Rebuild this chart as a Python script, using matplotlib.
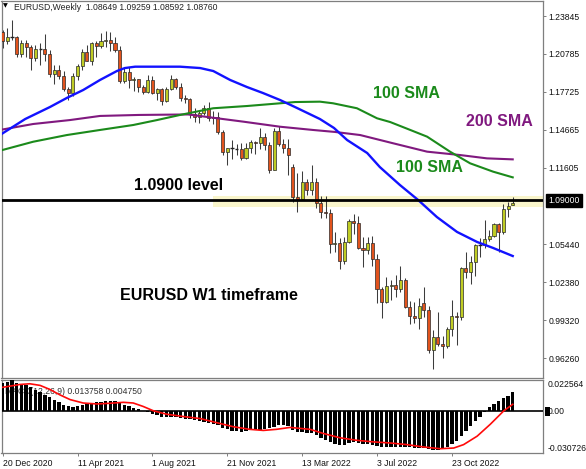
import matplotlib
matplotlib.use('Agg')
import matplotlib.pyplot as plt
from matplotlib.patches import Rectangle
import numpy as np
import pandas as pd

W, H = 586, 469
FONT = 'Liberation Sans'

# weekly EURUSD candles, first bar = week of 20 Dec 2020
opens = [1.2255, 1.2187, 1.2216, 1.2219, 1.2077, 1.2170, 1.2136, 1.2045, 1.2121, 1.2119,
         1.2075, 1.1915, 1.1952, 1.1904, 1.1795, 1.1762, 1.1899, 1.1983, 1.2097, 1.2020,
         1.2164, 1.2144, 1.2180, 1.2193, 1.2166, 1.2108, 1.1864, 1.1935, 1.1866, 1.1875,
         1.1810, 1.1771, 1.1870, 1.1762, 1.1795, 1.1697, 1.1795, 1.1880, 1.1813, 1.1726,
         1.1718, 1.1597, 1.1570, 1.1600, 1.1645, 1.1560, 1.1568, 1.1446, 1.1288, 1.1318,
         1.1316, 1.1315, 1.1237, 1.1320, 1.1370, 1.1358, 1.1410, 1.1344, 1.1146, 1.1456,
         1.1349, 1.1323, 1.1170, 1.0929, 1.0911, 1.1049, 1.0985, 1.1046, 1.0878, 1.0808,
         1.0796, 1.0545, 1.0551, 1.0412, 1.0562, 1.0732, 1.0717, 1.0518, 1.0498, 1.0554,
         1.0427, 1.0186, 1.0080, 1.0210, 1.0220, 1.0184, 1.0259, 1.0037, 0.9963, 0.9954,
         1.0070, 1.0015, 0.9690, 0.9799, 0.9741, 0.9721, 0.9862, 0.9965, 0.9958, 1.0355,
         1.0325, 1.0398, 1.0536, 1.0538, 1.0585, 1.0614, 1.0705, 1.0645, 1.0828, 1.08649]
highs = [1.2272, 1.2290, 1.2349, 1.2222, 1.2190, 1.2189, 1.2150, 1.2150, 1.2168, 1.2243,
         1.2113, 1.1990, 1.1990, 1.1945, 1.1810, 1.1928, 1.1995, 1.2117, 1.2150, 1.2173,
         1.2181, 1.2245, 1.2266, 1.2254, 1.2218, 1.2145, 1.1975, 1.1975, 1.1895, 1.1880,
         1.1830, 1.1909, 1.1900, 1.1806, 1.1805, 1.1809, 1.1909, 1.1886, 1.1845, 1.1750,
         1.1720, 1.1640, 1.1624, 1.1669, 1.1692, 1.1616, 1.1607, 1.1464, 1.1320, 1.1383,
         1.1355, 1.1362, 1.1360, 1.1386, 1.1380, 1.1482, 1.1443, 1.1370, 1.1483, 1.1495,
         1.1395, 1.1390, 1.1190, 1.1121, 1.1137, 1.1070, 1.1185, 1.1077, 1.0935, 1.0936,
         1.0829, 1.0642, 1.0593, 1.0607, 1.0749, 1.0787, 1.0774, 1.0601, 1.0606, 1.0615,
         1.0463, 1.0204, 1.0278, 1.0254, 1.0293, 1.0368, 1.0274, 1.0090, 1.0079, 1.0113,
         1.0198, 1.0051, 0.9854, 0.9999, 0.9808, 0.9876, 1.0094, 1.0000, 1.0364, 1.0481,
         1.0448, 1.0545, 1.0594, 1.0737, 1.0658, 1.0714, 1.0713, 1.0867, 1.0887, 1.09259]
lows = [1.2130, 1.2160, 1.2191, 1.2054, 1.2053, 1.2058, 1.1952, 1.2023, 1.1990, 1.2022,
        1.1894, 1.1836, 1.1874, 1.1780, 1.1704, 1.1740, 1.1870, 1.1950, 1.2018, 1.1986,
        1.2052, 1.2130, 1.2133, 1.2104, 1.2093, 1.1847, 1.1848, 1.1807, 1.1782, 1.1772,
        1.1752, 1.1760, 1.1752, 1.1706, 1.1664, 1.1690, 1.1790, 1.1800, 1.1700, 1.1685,
        1.1563, 1.1529, 1.1524, 1.1587, 1.1535, 1.1513, 1.1432, 1.1264, 1.1186, 1.1235,
        1.1262, 1.1222, 1.1234, 1.1279, 1.1272, 1.1313, 1.1302, 1.1121, 1.1140, 1.1340,
        1.1281, 1.1106, 1.0885, 1.0806, 1.0900, 1.0945, 1.0945, 1.0837, 1.0757, 1.0758,
        1.0471, 1.0483, 1.0349, 1.0389, 1.0556, 1.0627, 1.0506, 1.0359, 1.0469, 1.0366,
        1.0072, 0.9952, 1.0073, 1.0097, 1.0123, 1.0159, 1.0033, 0.9899, 0.9910, 0.9864,
        0.9956, 0.9670, 0.9536, 0.9728, 0.9632, 0.9705, 0.9808, 0.9730, 0.9935, 1.0271,
        1.0223, 1.0290, 1.0443, 1.0517, 1.0573, 1.0600, 1.0482, 1.0631, 1.0766, 1.08592]
closes = [1.2187, 1.2216, 1.2219, 1.2077, 1.2170, 1.2136, 1.2045, 1.2121, 1.2119, 1.2075,
          1.1915, 1.1952, 1.1904, 1.1795, 1.1762, 1.1899, 1.1983, 1.2097, 1.2020, 1.2164,
          1.2144, 1.2180, 1.2193, 1.2166, 1.2108, 1.1864, 1.1935, 1.1866, 1.1875, 1.1810,
          1.1771, 1.1870, 1.1762, 1.1795, 1.1697, 1.1795, 1.1880, 1.1813, 1.1726, 1.1718,
          1.1597, 1.1570, 1.1600, 1.1645, 1.1560, 1.1568, 1.1446, 1.1288, 1.1318, 1.1316,
          1.1315, 1.1237, 1.1320, 1.1370, 1.1358, 1.1410, 1.1344, 1.1146, 1.1456, 1.1349,
          1.1323, 1.1268, 1.0929, 1.0911, 1.1049, 1.0985, 1.1046, 1.0878, 1.0808, 1.0796,
          1.0545, 1.0551, 1.0412, 1.0562, 1.0732, 1.0717, 1.0518, 1.0498, 1.0554, 1.0427,
          1.0186, 1.0080, 1.0210, 1.0220, 1.0184, 1.0259, 1.0037, 0.9963, 0.9954, 1.0044,
          1.0015, 0.9690, 0.9799, 0.9741, 0.9721, 0.9862, 0.9965, 0.9958, 1.0355, 1.0325,
          1.0398, 1.0536, 1.0538, 1.0585, 1.0614, 1.0705, 1.0645, 1.0828, 1.0855, 1.08760]

# moving averages (bar position, price)
blue_pos = [-0.6, 4.8, 10.1, 13.7, 17.2, 20.8, 24.4, 26.1, 28.3, 37.9, 42.2, 45.0, 48.6, 52.2,
            55.6, 59.3, 62.9, 67.8, 70.8, 73.6, 77.9, 80.6, 84.9, 88.8, 92.8, 97.1, 101.4, 104.8, 109.0]
blue_ma = [1.1425, 1.1554, 1.1651, 1.1724, 1.1788, 1.1869, 1.1941, 1.1965, 1.1976, 1.1976, 1.1965,
           1.1941, 1.1869, 1.1812, 1.1764, 1.1707, 1.1643, 1.1554, 1.1482, 1.1385, 1.1280, 1.1167,
           1.1022, 1.0901, 1.0764, 1.0644, 1.0563, 1.0515, 1.0450]
sma100_pos = [-0.6, 6.5, 13.7, 20.8, 27.9, 33.0, 37.9, 45.0, 52.2, 59.3, 62.5, 67.8, 70.6, 75.7,
              80.0, 82.8, 87.1, 90.7, 95.6, 99.9, 104.8, 109.0]
sma100 = [1.1299, 1.1371, 1.1425, 1.1466, 1.1506, 1.1546, 1.1587, 1.1641, 1.1659, 1.1681, 1.1691,
          1.1694, 1.1681, 1.1641, 1.1560, 1.1530, 1.1466, 1.1412, 1.1291, 1.1197, 1.1130, 1.1084]
sma200_pos = [-0.6, 6.5, 14.4, 20.8, 29.1, 39.6, 47.1, 51.4, 59.3, 66.3, 71.0, 76.4, 83.4, 90.7,
              97.7, 103.5, 109.0]
sma200 = [1.1466, 1.1514, 1.1546, 1.1579, 1.1587, 1.1591, 1.1554, 1.1533, 1.1492, 1.1466, 1.1450,
          1.1425, 1.1359, 1.1291, 1.1264, 1.1237, 1.1229]

LEVEL = 1.09
BAND_LO, BAND_HI = 1.0842, 1.0936
BAND_START = '2021-10-31'

PRICE_TICKS = [1.23845, 1.20785, 1.17725, 1.14665, 1.11605, 1.05440, 1.02380, 0.99320, 0.96260]
TICK_LABELS = ['20 Dec 2020', '11 Apr 2021', '1 Aug 2021', '21 Nov 2021',
               '13 Mar 2022', '3 Jul 2022', '23 Oct 2022']

# MACD(12,26,9): main line as histogram, signal line
macd_hist = [0.0206, 0.0211, 0.0224, 0.0206, 0.0198, 0.0186, 0.0174, 0.0156, 0.0141, 0.0117,
             0.0099, 0.0082, 0.0062, 0.0042, 0.0032, 0.0030, 0.0037, 0.0042, 0.0047, 0.0055,
             0.0062, 0.0067, 0.0072, 0.0074, 0.0069, 0.0057, 0.0042, 0.0032, 0.0020, 0.0012,
             0.0002, -0.0007, -0.0020, -0.0030, -0.0042, -0.0045, -0.0042, -0.0045, -0.0050, -0.0057,
             -0.0062, -0.0067, -0.0074, -0.0082, -0.0087, -0.0094, -0.0107, -0.0124, -0.0136, -0.0146,
             -0.0151, -0.0154, -0.0151, -0.0144, -0.0139, -0.0139, -0.0136, -0.0126, -0.0117, -0.0107,
             -0.0107, -0.0112, -0.0140, -0.0154, -0.0156, -0.0161, -0.0166, -0.0181, -0.0198, -0.0211,
             -0.0231, -0.0241, -0.0250, -0.0248, -0.0236, -0.0231, -0.0236, -0.0241, -0.0246, -0.0250,
             -0.0258, -0.0263, -0.0265, -0.0265, -0.0265, -0.0263, -0.0263, -0.0268, -0.0273, -0.0273,
             -0.0273, -0.0278, -0.0285, -0.0290, -0.0280, -0.0265, -0.0246, -0.0221, -0.0186, -0.0149,
             -0.0112, -0.0074, -0.0042, -0.0012, 0.0030, 0.0052, 0.0069, 0.0092, 0.0112, 0.013758]
signal_pos = [-0.6, 1.6, 3.7, 5.8, 8.0, 10.1, 12.2, 14.4, 17.2, 20.1, 22.9, 25.8, 27.9, 30.0,
              32.2, 35.0, 38.6, 42.2, 45.7, 49.3, 52.8, 55.7, 58.5, 61.4, 65.7, 68.5, 72.1, 75.6,
              79.2, 82.8, 86.4, 89.9, 93.5, 96.4, 98.5, 101.4, 104.2, 107.1, 109.0]
signal = [0.0169, 0.0181, 0.0193, 0.0198, 0.0186, 0.0156, 0.0117, 0.0082, 0.0057, 0.0050,
          0.0055, 0.0062, 0.0057, 0.0032, 0.0000, -0.0025, -0.0042, -0.0057, -0.0087, -0.0117,
          -0.0136, -0.0144, -0.0136, -0.0122, -0.0136, -0.0166, -0.0198, -0.0216, -0.0228, -0.0236,
          -0.0248, -0.0265, -0.0278, -0.0273, -0.0248, -0.0186, -0.0099, 0.0, 0.004750]
MACD_MAX, MACD_MIN = 0.022564, -0.030726

dates = pd.date_range('2020-12-20', periods=len(closes), freq='7D')
x = np.arange(len(closes))

BULL = '#bfcc24'
BEAR = '#e2531d'
EDGE = '#7f7f7f'

fig = plt.figure(figsize=(W / 100, H / 100), dpi=100)
fig.patch.set_facecolor('white')

ax = fig.add_axes([1.5 / W, (H - 378) / H, 541.5 / W, 377 / H])
ax2 = fig.add_axes([1.5 / W, (H - 452.7) / H, 541.5 / W, 72.7 / H], sharex=ax)

# pale yellow zone around the level, from the band start to the right edge
band_x = dates.get_loc(pd.Timestamp(BAND_START))
ax.add_patch(Rectangle((band_x, BAND_LO), 200, BAND_HI - BAND_LO,
                       facecolor='#f9f5cb', edgecolor='none', zorder=0))

# candles
for i in range(len(closes)):
    o, h, l, c = opens[i], highs[i], lows[i], closes[i]
    ax.vlines(x[i], l, h, color='#3c3c3c', lw=0.75, zorder=2)
    lo, hi = min(o, c), max(o, c)
    col = BULL if c >= o else BEAR
    if hi - lo < 0.0004:
        ax.hlines((o + c) / 2, x[i] - 0.35, x[i] + 0.35, color='#222222', lw=1.0, zorder=3)
    else:
        ax.add_patch(Rectangle((x[i] - 0.33, lo), 0.66, hi - lo, facecolor=col,
                               edgecolor='#2a2a2a', lw=0.5, zorder=3))

ax.plot(sma200_pos, sma200, color='#80197f', lw=1.5, zorder=4)
ax.plot(sma100_pos, sma100, color='#1b8a1b', lw=1.5, zorder=4)
ax.plot(blue_pos, blue_ma, color='#1212ff', lw=1.7, zorder=4)
ax.axhline(LEVEL, color='black', lw=2.0, zorder=5)

ax.set_xlim(-0.26, 115.47)
ax.set_ylim(0.94668, 1.25054)
ax.yaxis.tick_right()
ax.set_yticks(PRICE_TICKS)
ax.set_yticklabels([f'{v:.5f}' for v in PRICE_TICKS])
ax.tick_params(axis='y', direction='out', length=2.2, width=0.7, color=EDGE, pad=1.5,
               labelsize=6.2, labelcolor='#111111')
ax.tick_params(axis='x', bottom=False, labelbottom=False)
for lbl in ax.get_yticklabels():
    lbl.set_fontfamily(FONT)
for s in ax.spines.values():
    s.set_color(EDGE)
    s.set_linewidth(0.9)

ax.annotate(f'{LEVEL:.5f}', xy=(1, LEVEL), xycoords=('axes fraction', 'data'),
            xytext=(3.6, 0), textcoords='offset points', va='center', ha='left',
            fontsize=6.2, family=FONT, color='white', annotation_clip=False,
            bbox=dict(boxstyle='square,pad=0.25', fc='black', ec='black'))

# MACD panel
ax2.bar(x, macd_hist, width=0.72, color='black', zorder=3)
ax2.axhline(0, color='black', lw=1.2, zorder=3)
ax2.plot(signal_pos, signal, color='#ff0a0a', lw=1.2, zorder=4)
ax2.set_ylim(MACD_MIN, MACD_MAX)
ax2.yaxis.tick_right()
ax2.set_yticks([MACD_MAX, 0, MACD_MIN])
ax2.set_yticklabels([f'{MACD_MAX:.6f}', '0.00', f'{MACD_MIN:.6f}'])
ax2.tick_params(axis='y', length=0, pad=3.6, labelsize=6.2, labelcolor='#111111')
ylbls = ax2.get_yticklabels()
ylbls[0].set_va('top')
ylbls[2].set_va('bottom')
for lbl in ylbls:
    lbl.set_fontfamily(FONT)
tick_pos = [dates.get_loc(pd.Timestamp(t)) for t in TICK_LABELS]
ax2.set_xticks(tick_pos)
ax2.set_xticklabels(TICK_LABELS)
ax2.tick_params(axis='x', direction='out', length=2.5, width=0.7, color=EDGE, pad=2,
                labelsize=6.2, labelcolor='#111111')
for lbl in ax2.get_xticklabels():
    lbl.set_ha('left')
    lbl.set_fontfamily(FONT)
for s in ax2.spines.values():
    s.set_color(EDGE)
    s.set_linewidth(0.9)
# small marker next to the zero label
fig.add_artist(Rectangle((545 / W, (H - 416) / H), 5 / W, 9 / H, transform=fig.transFigure,
                         facecolor='black', edgecolor='none'))
ax2.text(0.006, 0.84, f'MACD(12,26,9) {macd_hist[-1]:.6f} {signal[-1]:.6f}',
         transform=ax2.transAxes, fontsize=6.2, family=FONT, color='#333333',
         va='center', ha='left', zorder=2)

# header
fig.text(3 / W, 1 - 6.2 / H, '\u25bc', fontsize=4.5, family='DejaVu Sans', va='center', ha='left')
fig.text(14 / W, 1 - 7.5 / H,
         f'EURUSD,Weekly  {opens[-1]:.5f} {highs[-1]:.5f} {lows[-1]:.5f} {closes[-1]:.5f}',
         fontsize=6.2, family=FONT, color='#222222', va='center', ha='left')

# annotations
def note(px, py, s, col):
    fig.text(px / W, 1 - py / H, s, fontsize=11.5, family=FONT, weight='bold',
             color=col, va='center', ha='left')

note(373, 94, '100 SMA', '#1b8a1b')
note(466, 122, '200 SMA', '#80197f')
note(396, 167.5, '100 SMA', '#1b8a1b')
note(134, 185.5, '1.0900 level', 'black')
note(120, 295.5, 'EURUSD W1 timeframe', 'black')

fig.savefig('out.png', dpi=100, facecolor='white')
